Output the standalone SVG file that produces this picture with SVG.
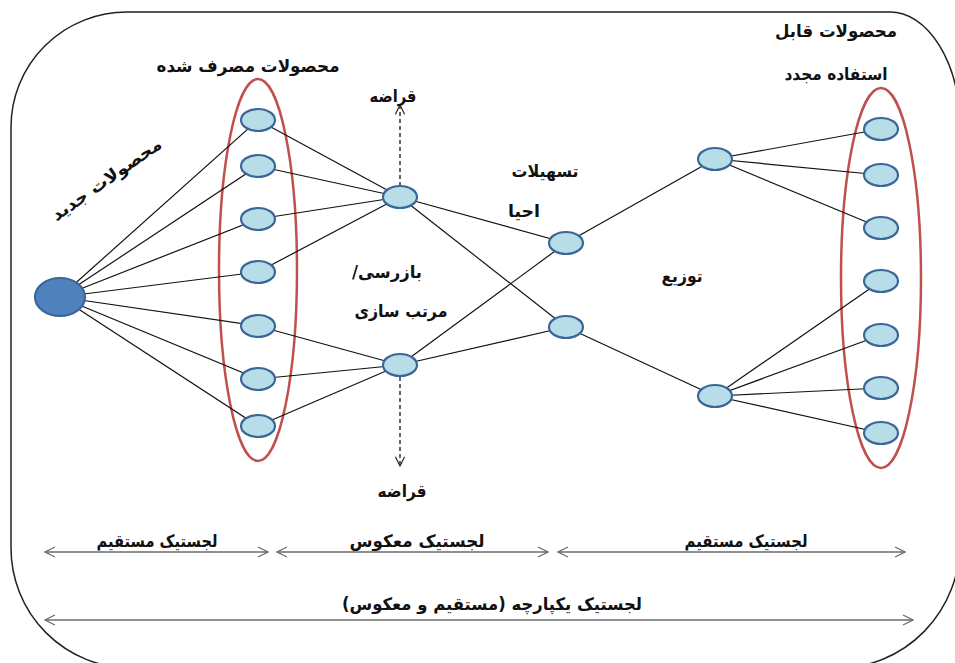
<svg xmlns="http://www.w3.org/2000/svg" width="955" height="663" viewBox="0 0 955 663">
  <defs>
    <marker id="chev" viewBox="0 0 12 12" refX="11" refY="6" markerWidth="12" markerHeight="12" markerUnits="userSpaceOnUse" orient="auto-start-reverse">
      <path d="M1,1 L11,6 L1,11" fill="none" stroke="#6b6b6b" stroke-width="1.3"/>
    </marker>
    <marker id="chevDark" viewBox="0 0 12 12" refX="11" refY="6" markerWidth="11" markerHeight="11" markerUnits="userSpaceOnUse" orient="auto">
      <path d="M1,1 L11,6 L1,11" fill="none" stroke="#333" stroke-width="1.4"/>
    </marker>
  </defs>
  <style>
    .frame { fill: #fff; stroke: #222; stroke-width: 1.5; }
    .group { fill: none; stroke: #C0504D; stroke-width: 2.5; }
    .node { fill: #B7DEE8; stroke: #3B6698; stroke-width: 2.2; }
    .hub { fill: #4F81BD; stroke: #3B6698; stroke-width: 2.2; }
    .edge { stroke: #111; stroke-width: 1.2; fill: none; }
    .scrap { stroke: #333; stroke-width: 1.5; stroke-dasharray: 4 3; fill: none; marker-end: url(#chevDark); }
    .span { stroke: #6b6b6b; stroke-width: 1.6; fill: none; marker-start: url(#chev); marker-end: url(#chev); }
    text { font-family: "DejaVu Sans", "Noto Sans", sans-serif; font-weight: bold; fill: #111; text-anchor: middle; direction: rtl; }
    .lbl { font-size: 17px; }
    .foot { font-size: 17px; }
  </style>

  <!-- outer boundary -->
  <path class="frame" d="M127,12 H890 A70 115 0 0 1 960 127 V543 A122 125 0 0 1 838 668 H131 A120 120 0 0 1 11 548 V127 A116 115 0 0 1 127 12 Z"/>

  <!-- red groupings -->
  <ellipse class="group" cx="258" cy="270" rx="39" ry="191"/>
  <ellipse class="group" cx="881" cy="278" rx="40" ry="190"/>

  <!-- connectors -->
  <g id="connectors">
    <line class="edge" x1="60" y1="297" x2="258" y2="120"/>
    <line class="edge" x1="60" y1="297" x2="258" y2="166"/>
    <line class="edge" x1="60" y1="297" x2="258" y2="219"/>
    <line class="edge" x1="60" y1="297" x2="258" y2="272"/>
    <line class="edge" x1="60" y1="297" x2="258" y2="326"/>
    <line class="edge" x1="60" y1="297" x2="258" y2="379"/>
    <line class="edge" x1="60" y1="297" x2="258" y2="426"/>

    <line class="edge" x1="258" y1="120" x2="400" y2="197"/>
    <line class="edge" x1="258" y1="166" x2="400" y2="197"/>
    <line class="edge" x1="258" y1="219" x2="400" y2="197"/>
    <line class="edge" x1="258" y1="272" x2="400" y2="197"/>
    <line class="edge" x1="258" y1="326" x2="400" y2="365"/>
    <line class="edge" x1="258" y1="379" x2="400" y2="365"/>
    <line class="edge" x1="258" y1="426" x2="400" y2="365"/>

    <line class="edge" x1="400" y1="197" x2="566" y2="243"/>
    <line class="edge" x1="400" y1="197" x2="566" y2="327"/>
    <line class="edge" x1="400" y1="365" x2="566" y2="243"/>
    <line class="edge" x1="400" y1="365" x2="566" y2="327"/>

    <line class="edge" x1="566" y1="243" x2="715" y2="159"/>
    <line class="edge" x1="566" y1="327" x2="715" y2="396"/>

    <line class="edge" x1="715" y1="159" x2="881" y2="129"/>
    <line class="edge" x1="715" y1="159" x2="881" y2="175"/>
    <line class="edge" x1="715" y1="159" x2="881" y2="228"/>
    <line class="edge" x1="715" y1="396" x2="881" y2="281"/>
    <line class="edge" x1="715" y1="396" x2="881" y2="335"/>
    <line class="edge" x1="715" y1="396" x2="881" y2="388"/>
    <line class="edge" x1="715" y1="396" x2="881" y2="433"/>

    <!-- scrap outflows -->
    <line class="scrap" x1="400" y1="186" x2="400" y2="105"/>
    <line class="scrap" x1="400" y1="377" x2="400" y2="466"/>

    <!-- logistics spans -->
    <line class="span" x1="45" y1="552" x2="268" y2="552"/>
    <line class="span" x1="277" y1="552" x2="548" y2="552"/>
    <line class="span" x1="558" y1="552" x2="905" y2="552"/>
    <line class="span" x1="45" y1="620" x2="913" y2="620"/>
  </g>

  <!-- new products -->
  <g id="new-product">
    <ellipse class="hub" cx="60" cy="297" rx="25" ry="19"/>
  </g>

  <!-- used products -->
  <g id="used-1"><ellipse class="node" cx="258" cy="120" rx="17" ry="11"/></g>
  <g id="used-2"><ellipse class="node" cx="258" cy="166" rx="17" ry="11"/></g>
  <g id="used-3"><ellipse class="node" cx="258" cy="219" rx="17" ry="11"/></g>
  <g id="used-4"><ellipse class="node" cx="258" cy="272" rx="17" ry="11"/></g>
  <g id="used-5"><ellipse class="node" cx="258" cy="326" rx="17" ry="11"/></g>
  <g id="used-6"><ellipse class="node" cx="258" cy="379" rx="17" ry="11"/></g>
  <g id="used-7"><ellipse class="node" cx="258" cy="426" rx="17" ry="11"/></g>

  <!-- inspection / sorting -->
  <g id="sort-top"><ellipse class="node" cx="400" cy="197" rx="17" ry="11"/></g>
  <g id="sort-bottom"><ellipse class="node" cx="400" cy="365" rx="17" ry="11"/></g>

  <!-- recovery facilities -->
  <g id="recovery-top"><ellipse class="node" cx="566" cy="243" rx="17" ry="11"/></g>
  <g id="recovery-bottom"><ellipse class="node" cx="566" cy="327" rx="17" ry="11"/></g>

  <!-- distribution -->
  <g id="dist-top"><ellipse class="node" cx="715" cy="159" rx="17" ry="11"/></g>
  <g id="dist-bottom"><ellipse class="node" cx="715" cy="396" rx="17" ry="11"/></g>

  <!-- reusable products -->
  <g id="reuse-1"><ellipse class="node" cx="881" cy="129" rx="17" ry="11"/></g>
  <g id="reuse-2"><ellipse class="node" cx="881" cy="175" rx="17" ry="11"/></g>
  <g id="reuse-3"><ellipse class="node" cx="881" cy="228" rx="17" ry="11"/></g>
  <g id="reuse-4"><ellipse class="node" cx="881" cy="281" rx="17" ry="11"/></g>
  <g id="reuse-5"><ellipse class="node" cx="881" cy="335" rx="17" ry="11"/></g>
  <g id="reuse-6"><ellipse class="node" cx="881" cy="388" rx="17" ry="11"/></g>
  <g id="reuse-7"><ellipse class="node" cx="881" cy="433" rx="17" ry="11"/></g>

  <!-- labels -->
  <g id="labels">
    <text class="lbl" x="248" y="72" textLength="183" lengthAdjust="spacingAndGlyphs">محصولات مصرف شده</text>
    <text class="lbl" x="393" y="102" textLength="47" lengthAdjust="spacingAndGlyphs">قراضه</text>
    <text class="lbl" x="402" y="497" textLength="49" lengthAdjust="spacingAndGlyphs">قراضه</text>
    <text class="lbl" transform="translate(107,180) rotate(-35)" x="0" y="5" textLength="130" lengthAdjust="spacingAndGlyphs">محصولات جدید</text>
    <text class="lbl" x="545" y="177" textLength="67" lengthAdjust="spacingAndGlyphs">تسهیلات</text>
    <text class="lbl" x="524" y="217" textLength="32" lengthAdjust="spacingAndGlyphs">احیا</text>
    <text class="lbl" x="387" y="278" textLength="70" lengthAdjust="spacingAndGlyphs">بازرسی/</text>
    <text class="lbl" x="401" y="317" textLength="93" lengthAdjust="spacingAndGlyphs">مرتب سازی</text>
    <text class="lbl" x="682" y="282" textLength="41" lengthAdjust="spacingAndGlyphs">توزیع</text>
    <text class="lbl" x="836" y="37" textLength="122" lengthAdjust="spacingAndGlyphs">محصولات قابل</text>
    <text class="lbl" x="836" y="80" textLength="103" lengthAdjust="spacingAndGlyphs">استفاده مجدد</text>
    <text class="foot" x="157" y="547" textLength="121" lengthAdjust="spacingAndGlyphs">لجستیک مستقیم</text>
    <text class="foot" x="417" y="547" textLength="135" lengthAdjust="spacingAndGlyphs">لجستیک معکوس</text>
    <text class="foot" x="746" y="547" textLength="123" lengthAdjust="spacingAndGlyphs">لجستیک مستقیم</text>
    <text class="foot" x="492" y="610" textLength="300" lengthAdjust="spacingAndGlyphs">لجستیک یکپارچه (مستقیم و معکوس)</text>
  </g>
</svg>
